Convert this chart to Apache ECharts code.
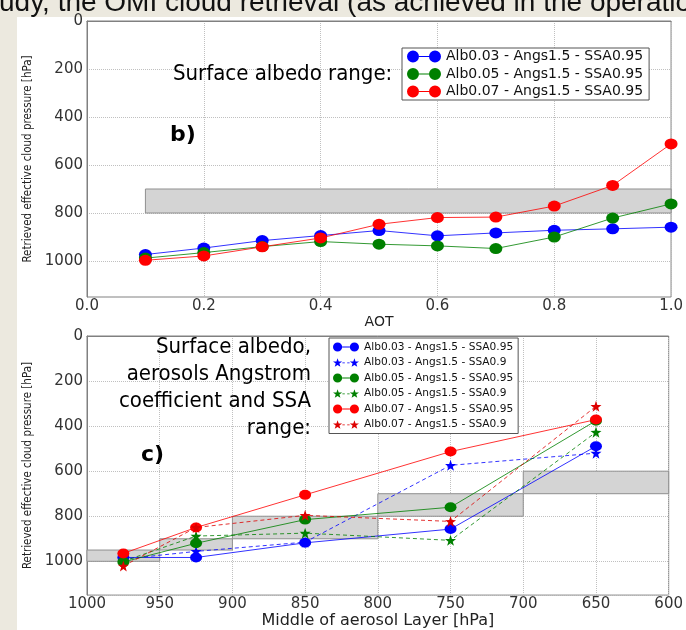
<!DOCTYPE html>
<html lang="en">
<head>
    <meta charset="UTF-8">
    <title>Retrieved effective cloud pressure</title>
    <script src="https://cdn.jsdelivr.net/npm/echarts@6.0.0/dist/echarts.min.js"></script>
    <style>
        html, body { margin: 0; padding: 0; background: #ece9df; }
        #chart { width: 686px; height: 630px; }
    </style>
</head>
<body>
    <div id="chart"></div>
    <script>
        // panel b) : retrieved cloud pressure vs AOT
        var aot = [0.1, 0.2, 0.3, 0.4, 0.5, 0.6, 0.7, 0.8, 0.9, 1.0];
        var bAlb003 = [973, 946, 915, 894, 873, 895, 883, 872, 866, 859];
        var bAlb005 = [988, 965, 940, 919, 930, 937, 948, 900, 821, 762];
        var bAlb007 = [997, 979, 941, 904, 847, 819, 817, 771, 685, 512];
        var bBoxes = [[0.1, 1.0, 700, 800]];

        // panel c) : retrieved cloud pressure vs middle of aerosol layer
        var layerMid = [975, 925, 850, 750, 650];
        var cAlb003 = [983, 983, 918, 857, 489];
        var cAlb003s = [990, 956, 915, 574, 520];
        var cAlb005 = [1003, 920, 815, 760, 376];
        var cAlb005s = [1000, 888, 875, 907, 427];
        var cAlb007 = [965, 850, 705, 513, 371];
        var cAlb007s = [1021, 850, 796, 823, 312];
        // aerosol layer extents [x from, x to, p from, p to]
        var cBoxes = [[1000, 950, 950, 1000], [950, 900, 900, 950], [900, 800, 800, 900],
                      [800, 700, 700, 800], [700, 600, 600, 700]];

        var names = ['Alb0.03 - Angs1.5 - SSA0.95', 'Alb0.03 - Angs1.5 - SSA0.9',
                     'Alb0.05 - Angs1.5 - SSA0.95', 'Alb0.05 - Angs1.5 - SSA0.9',
                     'Alb0.07 - Angs1.5 - SSA0.95', 'Alb0.07 - Angs1.5 - SSA0.9'];

        var BLUE = '#0000ff', GREEN = '#008000', RED = '#ff0000';
        var tickFont = { fontFamily: 'DejaVu Sans', fontSize: 15, color: '#333' };

        function pairs(xs, ys) {
            return xs.map(function (x, i) { return [x, ys[i]]; });
        }

        function circle(cx, cy, r) {
            return 'M' + (cx - r) + ',' + cy + 'a' + r + ',' + r + ' 0 1,0 ' + (2 * r) + ',0' +
                   'a' + r + ',' + r + ' 0 1,0 ' + (-2 * r) + ',0Z';
        }
        function star(cx, cy, r) {
            var s = '';
            for (var i = 0; i < 10; i++) {
                var rr = i % 2 ? r * 0.4 : r;
                var a = -Math.PI / 2 + i * Math.PI / 5;
                s += (i ? 'L' : 'M') + (cx + rr * Math.cos(a)).toFixed(2) + ',' + (cy + rr * Math.sin(a)).toFixed(2);
            }
            return s + 'Z';
        }
        // legend icons: marker - line - marker
        var iconSolid = 'path://' + circle(6, 6, 6) + 'M12,5.5h10v1h-10Z' + circle(28, 6, 6);
        var iconDash = 'path://' + star(6, 6, 6) + 'M12,5.5h3v1h-3ZM18,5.5h3v1h-3Z' + star(27, 6, 6);

        function renderBox(params, api) {
            var p1 = api.coord([api.value(0), api.value(2)]);
            var p2 = api.coord([api.value(1), api.value(3)]);
            return {
                type: 'rect',
                shape: {
                    x: Math.min(p1[0], p2[0]), y: Math.min(p1[1], p2[1]),
                    width: Math.abs(p2[0] - p1[0]), height: Math.abs(p2[1] - p1[1])
                },
                style: { fill: '#d4d4d4', stroke: '#8f8f8f', lineWidth: 1 }
            };
        }

        function lineSeries(name, idx, xs, ys, color, dashed, size) {
            return {
                name: name, type: 'line', xAxisIndex: idx, yAxisIndex: idx,
                data: pairs(xs, ys), z: 3,
                symbol: dashed ? 'path://' + star(10, 10, 10) : 'circle',
                symbolSize: size,
                itemStyle: { color: color },
                lineStyle: { color: color, width: 1, type: dashed ? [4, 3] : 'solid', opacity: 0.8 }
            };
        }

        function yAxisCfg(idx) {
            return {
                type: 'value', gridIndex: idx, inverse: true, min: 0, max: 1150, interval: 200,
                name: 'Retrieved effective cloud pressure [hPa]',
                nameLocation: 'middle', nameGap: 52,
                nameTextStyle: { fontFamily: 'DejaVu Sans Condensed', fontSize: 11.5, color: '#222' },
                axisLine: { show: true, lineStyle: { color: '#808080' } },
                axisTick: { show: false },
                axisLabel: Object.assign({ margin: 4, formatter: function (v) { return v % 200 === 0 ? String(v) : ''; } }, tickFont),
                splitLine: { show: true, lineStyle: { color: '#c0c0c0', type: 'dotted' } }
            };
        }

        var chart = echarts.init(document.getElementById('chart'), null, { renderer: 'canvas' });

        var option = {
            backgroundColor: '#ece9df',
            animation: false,
            graphic: [
                { type: 'rect', z: -100, shape: { x: 17, y: 17, width: 700, height: 640 }, style: { fill: '#ffffff' } },
                { type: 'text', x: -1, y: -11, style: { text: 'udy, the OMI cloud retrieval (as achieved in the operation', fontFamily: 'Liberation Sans', fontSize: 28, fill: '#111' } },
                { type: 'text', x: 173, y: 63, z: 10, style: { text: 'Surface albedo range:', fontFamily: 'DejaVu Sans Condensed', fontSize: 22, fill: '#000' } },
                { type: 'text', x: 170, y: 124, z: 10, style: { text: 'b)', fontFamily: 'DejaVu Sans', fontWeight: 'bold', fontSize: 22, fill: '#000' } },
                { type: 'text', x: 311, y: 334, z: 10, style: { text: 'Surface albedo,\naerosols Angstrom\ncoefficient and SSA\nrange:', align: 'right', lineHeight: 27, fontFamily: 'DejaVu Sans Condensed', fontSize: 22, fill: '#000' } },
                { type: 'text', x: 141, y: 444, z: 10, style: { text: 'c)', fontFamily: 'DejaVu Sans', fontWeight: 'bold', fontSize: 22, fill: '#000' } }
            ],
            grid: [
                { left: 87, top: 21, width: 589, height: 276, show: true, borderColor: '#808080', borderWidth: 1, backgroundColor: 'transparent' },
                { left: 87, top: 336, width: 585, height: 272, show: true, borderColor: '#808080', borderWidth: 1, backgroundColor: 'transparent' }
            ],
            legend: [
                {
                    left: 402, top: 48, orient: 'vertical', itemWidth: 34, itemHeight: 12, itemGap: 2.5,
                    padding: [1, 6, 1, 5], backgroundColor: '#fff', borderColor: '#555', borderWidth: 1, borderRadius: 0,
                    textStyle: { fontFamily: 'DejaVu Sans', fontSize: 14, lineHeight: 15, color: '#111' },
                    data: [names[0], names[2], names[4]].map(function (n) { return { name: n, icon: iconSolid }; })
                },
                {
                    left: 329, top: 338, orient: 'vertical', itemWidth: 26, itemHeight: 10, itemGap: 3.5,
                    padding: [3, 5, 3, 4], backgroundColor: '#fff', borderColor: '#555', borderWidth: 1, borderRadius: 0,
                    textStyle: { fontFamily: 'DejaVu Sans', fontSize: 10.6, lineHeight: 12, color: '#111' },
                    data: names.map(function (n, i) { return { name: n, icon: i % 2 ? iconDash : iconSolid }; })
                }
            ],
            xAxis: [
                {
                    type: 'value', gridIndex: 0, min: 0, max: 1, interval: 0.2,
                    name: 'AOT', nameLocation: 'middle', nameGap: 11,
                    nameTextStyle: { fontFamily: 'DejaVu Sans', fontSize: 14, color: '#222' },
                    axisLine: { show: true, lineStyle: { color: '#808080' } },
                    axisTick: { show: false },
                    axisLabel: Object.assign({ margin: 2, formatter: function (v) { return v.toFixed(1); } }, tickFont),
                    splitLine: { show: true, lineStyle: { color: '#c0c0c0', type: 'dotted' } }
                },
                {
                    type: 'value', gridIndex: 1, inverse: true, min: 600, max: 1000, interval: 50,
                    name: 'Middle of aerosol Layer [hPa]', nameLocation: 'middle', nameGap: 12,
                    nameTextStyle: { fontFamily: 'DejaVu Sans', fontSize: 16, color: '#222' },
                    axisLine: { show: true, lineStyle: { color: '#808080' } },
                    axisTick: { show: false },
                    axisLabel: Object.assign({ margin: 2, formatter: function (v) { return String(v); } }, tickFont),
                    splitLine: { show: true, lineStyle: { color: '#c0c0c0', type: 'dotted' } }
                }
            ],
            yAxis: [yAxisCfg(0), yAxisCfg(1)],
            series: [
                { type: 'custom', xAxisIndex: 0, yAxisIndex: 0, z: 1, renderItem: renderBox, data: bBoxes, silent: true },
                { type: 'custom', xAxisIndex: 1, yAxisIndex: 1, z: 1, renderItem: renderBox, data: cBoxes, silent: true },
                lineSeries(names[0], 0, aot, bAlb003, BLUE, false, [13, 11]),
                lineSeries(names[2], 0, aot, bAlb005, GREEN, false, [13, 11]),
                lineSeries(names[4], 0, aot, bAlb007, RED, false, [13, 11]),
                lineSeries(names[0], 1, layerMid, cAlb003, BLUE, false, [12, 10]),
                lineSeries(names[1], 1, layerMid, cAlb003s, BLUE, true, 11),
                lineSeries(names[2], 1, layerMid, cAlb005, GREEN, false, [12, 10]),
                lineSeries(names[3], 1, layerMid, cAlb005s, GREEN, true, 11),
                lineSeries(names[4], 1, layerMid, cAlb007, RED, false, [12, 10]),
                lineSeries(names[5], 1, layerMid, cAlb007s, '#dd0000', true, 11)
            ]
        };

        chart.setOption(option);
    </script>
</body>
</html>
